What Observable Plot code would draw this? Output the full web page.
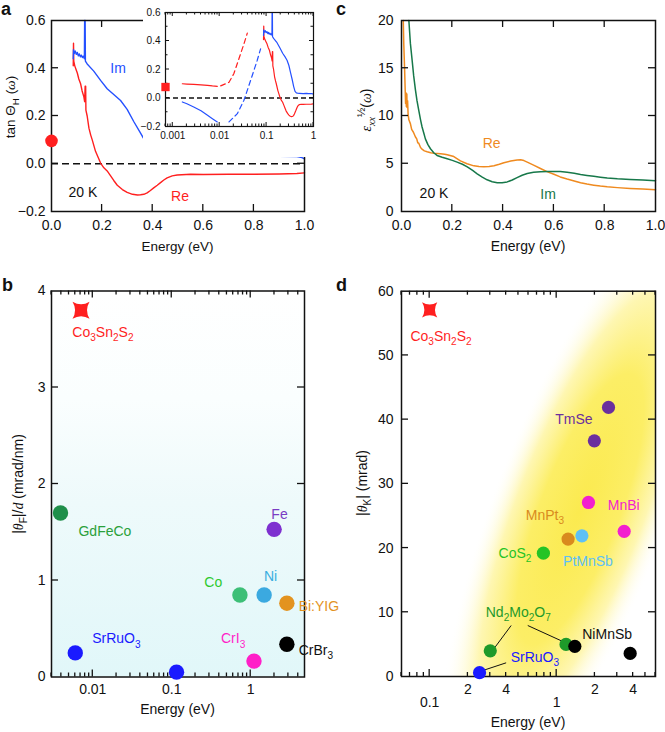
<!DOCTYPE html>
<html><head><meta charset="utf-8">
<script src="https://cdn.jsdelivr.net/npm/d3@7"></script>
<script src="https://cdn.jsdelivr.net/npm/@observablehq/plot@0.6"></script>
<style>
body{margin:0;background:#fff;}
#root{position:relative;width:665px;height:732px;overflow:hidden;font-family:"Liberation Sans",Arial,sans-serif;color:#111;}
#root svg{position:absolute;}
.letter{position:absolute;font-weight:bold;font-size:18px;line-height:1;}
</style></head><body><div id="root"></div>
<script>
// ---------- Panel a: tan Θ_H(ω), 20 K ----------
const aIm = [[0.086,0.44],[0.087,0.478],[0.09,0.462],[0.094,0.472],[0.098,0.458],[0.102,0.466],[0.106,0.452],[0.11,0.46],[0.114,0.448],[0.118,0.455],[0.122,0.445],[0.126,0.45],[0.130,0.44],[0.131,0.6],[0.133,0.6],[0.134,0.43],[0.141,0.418],[0.167,0.388],[0.194,0.349],[0.22,0.314],[0.246,0.29],[0.273,0.265],[0.299,0.228],[0.325,0.177],[0.352,0.128],[0.378,0.08],[0.404,0.046],[0.431,0.036],[0.457,0.034],[0.5,0.033],[0.6,0.031],[0.7,0.032],[0.8,0.031],[0.9,0.031],[0.97,0.03],[0.99,0.026],[1.0,0.02]];
const aRe = [[0.086,0.41],[0.087,0.505],[0.088,0.43],[0.092,0.41],[0.097,0.395],[0.102,0.38],[0.108,0.355],[0.115,0.335],[0.121,0.305],[0.128,0.28],[0.131,0.26],[0.133,0.325],[0.135,0.325],[0.136,0.225],[0.141,0.2],[0.148,0.149],[0.155,0.12],[0.161,0.1],[0.174,0.052],[0.194,0.003],[0.207,-0.017],[0.22,-0.03],[0.233,-0.05],[0.246,-0.07],[0.26,-0.09],[0.28,-0.108],[0.299,-0.12],[0.32,-0.128],[0.34,-0.131],[0.352,-0.13],[0.365,-0.128],[0.378,-0.122],[0.391,-0.112],[0.404,-0.101],[0.418,-0.09],[0.431,-0.079],[0.444,-0.068],[0.457,-0.059],[0.477,-0.051],[0.497,-0.047],[0.55,-0.044],[0.6,-0.045],[0.7,-0.044],[0.8,-0.044],[0.9,-0.043],[0.97,-0.041],[1.0,-0.038]];
const aDC = [{energy: 0, value: 0.096}];
const aLabels = [
  {text: "Im", x: 0.265, y: 0.40, color: "#2450ff"},
  {text: "Re", x: 0.51, y: -0.1375, color: "#ff1f1f"},
  {text: "20 K", x: 0.126, y: -0.121, color: "#111"}
];
// inset (log energy)
const inReSolid = [[0.0016,0.1],[0.002,0.098],[0.0028,0.096],[0.004,0.092],[0.0055,0.089],[0.007,0.085],[0.0089,0.082]];
const inReDash = [[0.0105,0.085],[0.0158,0.11],[0.02,0.17],[0.0257,0.275],[0.0329,0.38],[0.0388,0.455]];
const inImSolid = [[0.0016,-0.028],[0.002,-0.04],[0.0028,-0.063],[0.004,-0.09],[0.0055,-0.121],[0.007,-0.145],[0.0089,-0.168]];
const inImDash = [[0.0158,-0.168],[0.0238,-0.11],[0.0329,-0.016],[0.0457,0.124],[0.063,0.263],[0.0745,0.345]];
const inDC = [{energy: 0.0007, value: 0.077}];

// ---------- Panel c: ε_xx^(1/2)(ω) ----------
const cRe = [[0.007,20],[0.009,17.5],[0.012,15.1],[0.016,11.3],[0.018,12.4],[0.019,11.0],[0.021,12.3],[0.022,10.9],[0.024,11.6],[0.026,10.2],[0.029,9.6],[0.035,9.2],[0.04,8.6],[0.047,8.3],[0.055,7.8],[0.06,7.6],[0.064,7.2],[0.068,7.15],[0.075,6.7],[0.082,6.5],[0.09,6.35],[0.101,6.25],[0.115,6.15],[0.128,6.1],[0.154,6.05],[0.17,6.0],[0.18,5.94],[0.206,5.75],[0.232,5.3],[0.258,5.0],[0.285,4.78],[0.305,4.7],[0.324,4.68],[0.345,4.72],[0.364,4.8],[0.385,4.95],[0.403,5.1],[0.43,5.28],[0.455,5.4],[0.469,5.42],[0.482,5.33],[0.495,5.17],[0.52,4.85],[0.547,4.5],[0.575,4.15],[0.6,3.9],[0.625,3.62],[0.652,3.4],[0.68,3.2],[0.705,3.02],[0.73,2.88],[0.757,2.76],[0.783,2.66],[0.81,2.58],[0.85,2.5],[0.9,2.42],[0.95,2.35],[1.0,2.28]];
const cIm = [[0.029,20],[0.035,17.6],[0.042,15.8],[0.048,14.2],[0.055,12.7],[0.061,11.6],[0.068,10.6],[0.075,9.6],[0.081,8.85],[0.088,8.2],[0.094,7.6],[0.104,7.0],[0.114,6.57],[0.127,6.15],[0.14,5.87],[0.16,5.68],[0.18,5.52],[0.2,5.35],[0.219,5.17],[0.24,4.95],[0.259,4.68],[0.28,4.3],[0.298,3.95],[0.318,3.6],[0.337,3.32],[0.357,3.12],[0.377,3.02],[0.396,3.02],[0.416,3.1],[0.436,3.3],[0.455,3.55],[0.475,3.8],[0.495,3.98],[0.52,4.1],[0.547,4.17],[0.575,4.2],[0.6,4.2],[0.625,4.18],[0.652,4.1],[0.68,4.0],[0.705,3.88],[0.73,3.78],[0.757,3.68],[0.783,3.59],[0.81,3.5],[0.85,3.42],[0.9,3.35],[0.95,3.29],[1.0,3.23]];
const cLabels = [
  {text: "Re", x: 0.357, y: 7.15, color: "#ef8a1f"},
  {text: "Im", x: 0.579, y: 1.78, color: "#17784a"},
  {text: "20 K", x: 0.13, y: 1.92, color: "#111"}
];

// ---------- Panel b: |θ_F|/d ----------
const bMaterials = ["GdFeCo", "SrRuO3", "SrRuO3", "CrI3", "Co", "Ni", "Fe", "Bi:YIG", "CrBr3"];
const bEnergy    = [0.0039, 0.006, 0.115, 1.1, 0.73, 1.48, 1.98, 2.87, 2.87];
const bFaraday   = [1.70, 0.25, 0.05, 0.165, 0.85, 0.85, 1.53, 0.765, 0.34];
const bStar = [{energy: 0.0071, value: 3.8}];
const bLabels = [
  {text: "Co_{3}Sn_{2}S_{2}", x: 0.01364, y: 3.57, color: "#ff1f1f"},
  {text: "GdFeCo", x: 0.01446, y: 1.51, color: "#2aa03a"},
  {text: "SrRuO_{3}", x: 0.0202, y: 0.396, color: "#1a1aff"},
  {text: "CrI_{3}", x: 0.608, y: 0.396, color: "#ff1fc8"},
  {text: "Co", x: 0.341, y: 0.982, color: "#2ec92e"},
  {text: "Ni", x: 1.81, y: 1.04, color: "#3aaee0"},
  {text: "Fe", x: 2.35, y: 1.68, color: "#7a3cc4"},
  {text: "Bi:YIG", x: 4.11, y: 0.73, color: "#e3931f", anchor: "start"},
  {text: "CrBr_{3}", x: 4.11, y: 0.275, color: "#111", anchor: "start"}
];

// ---------- Panel d: |θ_K| ----------
const dMaterials = ["TmSe", "TmSe", "MnBi", "MnBi", "MnPt3", "PtMnSb", "CoS2", "Nd2Mo2O7", "Nd2Mo2O7", "NiMnSb", "NiMnSb", "SrRuO3"];
const dEnergy    = [2.56, 1.98, 1.78, 3.4, 1.23, 1.58, 0.786, 0.30, 1.185, 1.39, 3.79, 0.247];
const dKerr      = [41.9, 36.7, 27.1, 22.6, 21.4, 21.9, 19.2, 4.0, 5.0, 4.7, 3.6, 0.6];
const dStar = [{energy: 0.1, value: 57.1}];
const dBlob = [{energy: 1.55, value: 26}];
const dLinks = [
  {x1: 0.438, y1: 7.94, x2: 0.313, y2: 4.05},
  {x1: 0.592, y1: 7.94, x2: 1.15, y2: 5.34},
  {x1: 0.40, y1: 2.13, x2: 0.262, y2: 0.93}
];
const dLabels = [
  {text: "Co_{3}Sn_{2}S_{2}", x: 0.124, y: 52.96, color: "#ff1f1f"},
  {text: "TmSe", x: 1.38, y: 40.0, color: "#6b2f9e"},
  {text: "MnBi", x: 3.4, y: 26.7, color: "#f21fcf"},
  {text: "MnPt_{3}", x: 0.815, y: 25.1, color: "#d98a1e"},
  {text: "CoS_{2}", x: 0.474, y: 19.2, color: "#25c425"},
  {text: "PtMnSb", x: 1.78, y: 17.9, color: "#5ec0f5"},
  {text: "Nd_{2}Mo_{2}O_{7}", x: 0.503, y: 10.0, color: "#1e9a2a"},
  {text: "NiMnSb", x: 2.52, y: 6.54, color: "#111"},
  {text: "SrRuO_{3}", x: 0.68, y: 3.0, color: "#1a1aff"}
];

// colours
const bColor = {"GdFeCo": "#1f8f4a", "SrRuO3": "#1a1aff", "CrI3": "#ff1fc8", "Co": "#3dbf77", "Ni": "#3ba9e0", "Fe": "#7e30d0", "Bi:YIG": "#e3931f", "CrBr3": "#000"};
const dColor = {"TmSe": "#6b2f9e", "MnBi": "#f21fcf", "MnPt3": "#d98a1e", "PtMnSb": "#5ec0f5", "CoS2": "#25c425", "Nd2Mo2O7": "#1e9a2a", "NiMnSb": "#000", "SrRuO3": "#1a1aff"};
const RED = "#ff1f1f", BLUE = "#2450ff";
const FONT = '"Liberation Sans", Arial, sans-serif';
const SERIF = '"Liberation Serif", "DejaVu Serif", serif';

const bPoints = bMaterials.map((m, i) => ({material: m, energy: bEnergy[i], value: bFaraday[i]}));
const dPoints = dMaterials.map((m, i) => ({material: m, energy: dEnergy[i], value: dKerr[i]}));

// ---------- helpers ----------
function rich(sel, str, base) {
  const parts = str.split(/(_\{[^}]*\}|\^\{[^}]*\}|\*[^*]*\*)/g).filter(s => s !== "");
  let shift = 0;
  for (const p of parts) {
    let t = p, dy = 0, size = null, italic = false;
    if (p.startsWith("_{")) { t = p.slice(2, -1); dy = base * 0.3; size = base * 0.72; }
    else if (p.startsWith("^{")) { t = p.slice(2, -1); dy = -base * 0.42; size = base * 0.8; }
    else if (p.startsWith("*")) { t = p.slice(1, -1); italic = true; }
    if (t.length > 2 && t.startsWith("*") && t.endsWith("*")) { t = t.slice(1, -1); italic = true; }
    const ts = sel.append("tspan").text(t);
    if (dy - shift !== 0) ts.attr("dy", dy - shift);
    shift = dy;
    if (size) ts.attr("font-size", size);
    if (italic) ts.attr("font-style", "italic").attr("font-family", SERIF);
  }
}
function richText(data, fontSize = 14) {
  return (index, scales) => {
    const g = d3.create("svg:g").attr("class", "rt").attr("font-size", fontSize).attr("font-family", FONT);
    for (const d of data) {
      const t = g.append("text").attr("x", scales.x(d.x)).attr("y", scales.y(d.y) + fontSize * 0.36)
        .attr("text-anchor", d.anchor || "middle").attr("fill", d.color);
      rich(t, d.text, fontSize);
    }
    return g.node();
  };
}
function logTicks(lo, hi) {
  const out = [];
  for (let e = -4; e <= 2; e++) for (let m = 1; m <= 9; m++) {
    const v = +(m * Math.pow(10, e)).toPrecision(6);
    if (v >= lo * 0.999 && v <= hi * 1.001) out.push({v, major: m === 1});
  }
  return out;
}
const lin = vals => vals.map(v => ({v, major: true}));
function frameTicks({x = [], y = [], major = 7, minor = 4, sw = 1.3}) {
  return (index, scales, values, dims) => {
    const {width, height, marginTop, marginRight, marginBottom, marginLeft} = dims;
    const L = marginLeft, R = width - marginRight, T = marginTop, B = height - marginBottom;
    const g = d3.create("svg:g").attr("stroke", "#111").attr("stroke-width", sw).attr("fill", "none");
    for (const t of x) {
      const px = scales.x(t.v), len = t.major ? major : minor;
      g.append("line").attr("x1", px).attr("x2", px).attr("y1", B).attr("y2", B - len);
      g.append("line").attr("x1", px).attr("x2", px).attr("y1", T).attr("y2", T + len);
    }
    for (const t of y) {
      const py = scales.y(t.v), len = t.major ? major : minor;
      g.append("line").attr("y1", py).attr("y2", py).attr("x1", L).attr("x2", L + len);
      g.append("line").attr("y1", py).attr("y2", py).attr("x1", R).attr("x2", R - len);
    }
    return g.node();
  };
}
const starSymbol = {
  draw(ctx, size) {
    const a = Math.sqrt(size / Math.PI), k = 0.4 * a;
    ctx.moveTo(-a, -a);
    ctx.quadraticCurveTo(0, -k, a, -a);
    ctx.quadraticCurveTo(k, 0, a, a);
    ctx.quadraticCurveTo(0, k, -a, a);
    ctx.quadraticCurveTo(-k, 0, -a, -a);
    ctx.closePath();
  }
};
function axisLabels(svg, {xText, xPos, yText, yPos, size = 14}) {
  const s = d3.select(svg);
  s.append("text").attr("x", xPos[0]).attr("y", xPos[1]).attr("text-anchor", "middle")
    .attr("font-size", size).attr("font-family", FONT).attr("fill", "#111").text(xText);
  const t = s.append("text").attr("transform", `translate(${yPos[0]},${yPos[1]}) rotate(-90)`)
    .attr("text-anchor", "middle").attr("font-size", size).attr("font-family", FONT).attr("fill", "#111");
  rich(t, yText, size);
}
function tickFont(svg, fs) {
  d3.select(svg).selectAll("text")
    .filter(function () { return !this.closest(".rt"); })
    .attr("font-size", fs)
    .style("font-size", fs + "px")
    .style("font-family", FONT);
}
const style = (bg = "transparent") => ({background: bg, overflow: "visible", fontFamily: FONT, color: "#111"});
const f1 = d3.format(".1f");
const fi = d3.format("d");
const root = document.getElementById("root");
function place(svg, left, top) { svg.style.left = left + "px"; svg.style.top = top + "px"; root.appendChild(svg); }
const FS = 14;

// ---------- Panel a ----------
const pa = Plot.plot({
  width: 330, height: 262, marginLeft: 51, marginRight: 26, marginTop: 20, marginBottom: 51,
  style: style(), x: {domain: [0, 1]}, y: {domain: [-0.2, 0.6]},
  marks: [
    Plot.ruleY([0], {stroke: "#111", strokeWidth: 1.5, strokeDasharray: "7,4"}),
    Plot.line(aRe, {x: d => d[0], y: d => d[1], stroke: RED, strokeWidth: 1.4}),
    Plot.line(aIm, {x: d => d[0], y: d => d[1], stroke: BLUE, strokeWidth: 1.4}),
    Plot.frame({stroke: "#111", strokeWidth: 1.5}),
    frameTicks({x: lin([0.2, 0.4, 0.6, 0.8]), y: lin([0, 0.2, 0.4])}),
    Plot.dot(aDC, {x: "energy", y: "value", r: 6.3, fill: RED}),
    Plot.axisX({ticks: [0, 0.2, 0.4, 0.6, 0.8, 1], tickSize: 0, tickPadding: 9, tickFormat: f1, label: null}),
    Plot.axisY({ticks: [-0.2, 0, 0.2, 0.4, 0.6], tickSize: 0, tickPadding: 6, tickFormat: f1, label: null}),
    richText(aLabels)
  ]
});
tickFont(pa, FS);
axisLabels(pa, {xText: "Energy (eV)", xPos: [177.5, 251], yText: "tan Θ_{H} (*ω*)", yPos: [15, 107], size: 13.5});
place(pa, 0, 0);

// inset
const pin = Plot.plot({
  width: 177, height: 157, marginLeft: 22, marginRight: 7, marginTop: 12, marginBottom: 31,
  style: style("white"), x: {type: "log", domain: [0.0007, 1]}, y: {domain: [-0.2, 0.6]},
  marks: [
    Plot.ruleY([0], {stroke: "#111", strokeWidth: 1.3, strokeDasharray: "5,3"}),
    Plot.line(inReSolid, {x: d => d[0], y: d => d[1], stroke: RED, strokeWidth: 1.2}),
    Plot.line(inReDash, {x: d => d[0], y: d => d[1], stroke: RED, strokeWidth: 1.2, strokeDasharray: "5,3.5"}),
    Plot.line(inImSolid, {x: d => d[0], y: d => d[1], stroke: BLUE, strokeWidth: 1.2}),
    Plot.line(inImDash, {x: d => d[0], y: d => d[1], stroke: BLUE, strokeWidth: 1.2, strokeDasharray: "5,3.5"}),
    Plot.line(aRe, {x: d => d[0], y: d => d[1], stroke: RED, strokeWidth: 1.2}),
    Plot.line(aIm, {x: d => d[0], y: d => d[1], stroke: BLUE, strokeWidth: 1.2}),
    Plot.frame({stroke: "#111", strokeWidth: 1.2}),
    frameTicks({x: logTicks(0.0007, 1), y: lin([-0.1, 0, 0.1, 0.2, 0.3, 0.4, 0.5]).map(t => ({v: t.v, major: Math.round(t.v * 10) % 2 === 0})), major: 4, minor: 2.5, sw: 1}),
    Plot.dot(inDC, {x: "energy", y: "value", r: 4.7, symbol: "square", fill: RED}),
    Plot.axisX({ticks: [0.001, 0.01, 0.1, 1], tickSize: 0, tickPadding: 5, tickFormat: d3.format("~g"), label: null}),
    Plot.axisY({ticks: [-0.2, 0, 0.2, 0.4, 0.6], tickSize: 0, tickPadding: 5, tickFormat: f1, label: null})
  ]
});
tickFont(pin, 10);
place(pin, 143, 0);

// ---------- Panel c ----------
const pc = Plot.plot({
  width: 325, height: 262, marginLeft: 61, marginRight: 10, marginTop: 20, marginBottom: 51,
  style: style(), x: {domain: [0, 1]}, y: {domain: [0, 20]},
  marks: [
    Plot.line(cRe, {x: d => d[0], y: d => d[1], stroke: "#ef8a1f", strokeWidth: 1.5}),
    Plot.line(cIm, {x: d => d[0], y: d => d[1], stroke: "#17784a", strokeWidth: 1.5}),
    Plot.frame({stroke: "#111", strokeWidth: 1.5}),
    frameTicks({x: lin([0.2, 0.4, 0.6, 0.8]), y: lin([5, 10, 15])}),
    Plot.axisX({ticks: [0, 0.2, 0.4, 0.6, 0.8, 1], tickSize: 0, tickPadding: 9, tickFormat: f1, label: null}),
    Plot.axisY({ticks: [0, 5, 10, 15, 20], tickSize: 0, tickPadding: 8, tickFormat: fi, label: null}),
    richText(cLabels)
  ]
});
tickFont(pc, FS);
axisLabels(pc, {xText: "Energy (eV)", xPos: [188, 251], yText: "*ε*_{*xx*}^{½}(*ω*)", yPos: [31, 110], size: 14});
place(pc, 340, 0);

// ---------- Panel b ----------
function bBackground(index, scales, values, dims) {
  const {width, height, marginTop, marginRight, marginBottom, marginLeft} = dims;
  const g = d3.create("svg:g");
  const grad = g.append("defs").append("linearGradient").attr("id", "bgrad")
    .attr("gradientUnits", "userSpaceOnUse").attr("x1", 0).attr("x2", 0)
    .attr("y1", scales.y(0)).attr("y2", scales.y(4));
  grad.append("stop").attr("offset", "0%").attr("stop-color", "#e1f7f9");
  grad.append("stop").attr("offset", "45%").attr("stop-color", "#eefafb");
  grad.append("stop").attr("offset", "72%").attr("stop-color", "#fafefe");
  grad.append("stop").attr("offset", "100%").attr("stop-color", "#ffffff");
  g.append("rect").attr("x", marginLeft).attr("y", marginTop)
    .attr("width", width - marginLeft - marginRight).attr("height", height - marginTop - marginBottom)
    .attr("fill", "url(#bgrad)");
  return g.node();
}
const pb = Plot.plot({
  width: 340, height: 470, marginLeft: 51, marginRight: 36, marginTop: 28.5, marginBottom: 55.5,
  style: style(), x: {type: "log", domain: [0.003, 4.8]}, y: {domain: [0, 4]}, color: {type: "identity"},
  marks: [
    bBackground,
    Plot.frame({stroke: "#111", strokeWidth: 1.5}),
    frameTicks({x: logTicks(0.003, 4.8), y: lin([1, 2, 3])}),
    Plot.dot(bPoints, {x: "energy", y: "value", r: 7.7, fill: d => bColor[d.material]}),
    Plot.dot(bStar, {x: "energy", y: "value", r: 8.5, symbol: starSymbol, fill: RED}),
    Plot.axisX({ticks: [0.01, 0.1, 1], tickSize: 0, tickPadding: 7.5, tickFormat: d3.format("~g"), label: null}),
    Plot.axisY({ticks: [0, 1, 2, 3, 4], tickSize: 0, tickPadding: 6, tickFormat: fi, label: null}),
    richText(bLabels)
  ]
});
tickFont(pb, FS);
axisLabels(pb, {xText: "Energy (eV)", xPos: [177.5, 452], yText: "|*θ*_{F}|/*d* (mrad/nm)", yPos: [23, 222], size: 14});
place(pb, 0, 262);

// ---------- Panel d ----------
function dBlobMark(index, scales, values, dims) {
  const {width, height, marginTop, marginRight, marginBottom, marginLeft} = dims;
  const g = d3.create("svg:g");
  const defs = g.append("defs");
  const rg = defs.append("radialGradient").attr("id", "dgrad");
  rg.append("stop").attr("offset", "0%").attr("stop-color", "#fbea4f");
  rg.append("stop").attr("offset", "45%").attr("stop-color", "#fcee66");
  rg.append("stop").attr("offset", "72%").attr("stop-color", "#fef5a4").attr("stop-opacity", 0.85);
  rg.append("stop").attr("offset", "100%").attr("stop-color", "#ffffff").attr("stop-opacity", 0);
  defs.append("clipPath").attr("id", "dclip").append("rect")
    .attr("x", marginLeft).attr("y", marginTop)
    .attr("width", width - marginLeft - marginRight).attr("height", height - marginTop - marginBottom);
  const c = dBlob[0];
  g.append("g").attr("clip-path", "url(#dclip)").append("ellipse")
    .attr("rx", 88).attr("ry", 320)
    .attr("transform", `translate(${scales.x(c.energy)},${scales.y(c.value)}) rotate(21)`)
    .attr("fill", "url(#dgrad)");
  return g.node();
}
const firstDigit = d => String(Math.round(d / Math.pow(10, Math.floor(Math.log10(d) + 1e-9))));
const pd = Plot.plot({
  width: 325, height: 470, marginLeft: 61, marginRight: 10, marginTop: 28.7, marginBottom: 56,
  style: style(), x: {type: "log", domain: [0.06, 6]}, y: {domain: [0, 60]}, color: {type: "identity"},
  marks: [
    dBlobMark,
    Plot.frame({stroke: "#111", strokeWidth: 1.5}),
    frameTicks({x: logTicks(0.06, 6), y: lin([10, 20, 30, 40, 50])}),
    Plot.link(dLinks, {x1: "x1", y1: "y1", x2: "x2", y2: "y2", stroke: "#111", strokeWidth: 1}),
    Plot.dot(dPoints, {x: "energy", y: "value", r: 6.6, fill: d => dColor[d.material]}),
    Plot.dot(dStar, {x: "energy", y: "value", r: 7.6, symbol: starSymbol, fill: RED}),
    Plot.axisX({ticks: [0.06, 0.2, 0.4, 0.6, 2, 4, 6], tickSize: 0, tickPadding: 8, tickFormat: firstDigit, label: null}),
    Plot.axisX({ticks: [0.1, 1], tickSize: 0, tickPadding: 21, tickFormat: d3.format("~g"), label: null}),
    Plot.axisY({ticks: [0, 10, 20, 30, 40, 50, 60], tickSize: 0, tickPadding: 8, tickFormat: fi, label: null}),
    richText(dLabels)
  ]
});
tickFont(pd, FS);
axisLabels(pd, {xText: "Energy (eV)", xPos: [188, 465], yText: "|*θ*_{K}| (mrad)", yPos: [27, 221], size: 14});
place(pd, 340, 262);

// panel letters
[["a", 1, 0], ["c", 336, 0], ["b", 2, 276], ["d", 336, 276]].forEach(([t, x, y]) => {
  const el = document.createElement("div");
  el.className = "letter"; el.textContent = t;
  el.style.left = x + "px"; el.style.top = y + "px";
  root.appendChild(el);
});
</script></body></html>
